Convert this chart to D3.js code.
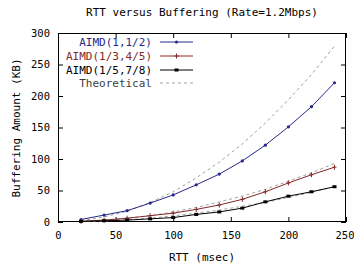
<!DOCTYPE html>
<html><head><meta charset="utf-8">
<script src="https://cdn.jsdelivr.net/npm/d3@7"></script>
<style>body{margin:0;background:#fff}svg{display:block}text{font-family:"DejaVu Sans Mono",monospace}</style>
</head><body><svg id="c" width="354" height="266"></svg>
<script>
const rtt = [20, 40, 60, 80, 100, 120, 140, 160, 180, 200, 220, 240];
const aimd1 = [4, 11, 18, 30, 43, 59, 76, 97, 122, 151, 183, 221];
const aimd2 = [1, 3, 6, 10, 14, 20, 27, 36, 48, 62, 75, 87];
const aimd3 = [1, 2, 3, 5, 7, 12, 16, 22, 32, 41, 48, 56];
const theo1 = [2, 8, 17, 31, 48, 70, 95, 124, 157, 194, 234, 279];
const theo2 = [1, 3, 6, 10, 16, 23, 32, 41, 52, 65, 78, 93];
const theo3 = [0.5, 1.6, 3.4, 6, 10, 14, 19, 25, 31, 39, 47, 56];
const xTicks = [0, 50, 100, 150, 200, 250];
const yTicks = [0, 50, 100, 150, 200, 250, 300];
const names = ["AIMD(1,1/2)", "AIMD(1/3,4/5)", "AIMD(1/5,7/8)", "Theoretical"];

const svg = d3.select("#c");
const L = 58, R = 346, T = 33, B = 222;
const x = d3.scaleLinear().domain([0, 250]).range([L, R]);
const y = d3.scaleLinear().domain([0, 300]).range([B, T]);

svg.append("text").attr("x", 202).attr("y", 16).attr("text-anchor", "middle")
  .attr("font-size", 11).attr("fill", "#000").text("RTT versus Buffering (Rate=1.2Mbps)");
svg.append("text").attr("x", 202).attr("y", 261).attr("text-anchor", "middle")
  .attr("font-size", 11).text("RTT (msec)");
svg.append("text").attr("transform", "translate(20,128) rotate(-90)").attr("text-anchor", "middle")
  .attr("font-size", 11).text("Buffering Amount (KB)");

const tk = 5;
const gx = svg.append("g").attr("transform", `translate(0,${B})`)
  .call(d3.axisBottom(x).tickValues(xTicks).tickSize(-tk).tickPadding(10));
const gxt = svg.append("g").attr("transform", `translate(0,${T})`)
  .call(d3.axisTop(x).tickValues(xTicks).tickSize(-tk).tickFormat(""));
const gy = svg.append("g").attr("transform", `translate(${L},0)`)
  .call(d3.axisLeft(y).tickValues(yTicks).tickSize(-tk).tickPadding(8));
const gyr = svg.append("g").attr("transform", `translate(${R},0)`)
  .call(d3.axisRight(y).tickValues(yTicks).tickSize(-tk).tickFormat(""));
[gx, gxt, gy, gyr].forEach(g => {
  g.select(".domain").remove();
  g.selectAll("text").attr("font-size", 10.5).attr("font-family", "DejaVu Sans Mono").attr("fill", "#000");
  g.selectAll("line").attr("stroke", "#000");
});
gx.selectAll("text").filter(d => d === 250).attr("text-anchor", "end").attr("dx", 8);
svg.append("rect").attr("x", L + 0.5).attr("y", T + 0.5).attr("width", R - L - 1).attr("height", B - T - 1)
  .attr("fill", "none").attr("stroke", "#000");

const line = d3.line().x((d, i) => x(rtt[i])).y(d => y(d));

[theo1, theo2, theo3].forEach(s => {
  svg.append("path").datum(s).attr("d", line).attr("fill", "none")
    .attr("stroke", "#a0a0a0").attr("stroke-width", 1).attr("stroke-dasharray", "3,3");
});

const series = [
  {v: aimd1, c: "#28288a", m: "dot"},
  {v: aimd2, c: "#842828", m: "plus"},
  {v: aimd3, c: "#000000", m: "sq"}
];
function marker(g, cx, cy, m, c) {
  if (m === "dot") g.append("circle").attr("cx", cx).attr("cy", cy).attr("r", 1.6).attr("fill", c);
  else if (m === "plus") {
    g.append("line").attr("x1", cx - 2).attr("x2", cx + 2).attr("y1", cy).attr("y2", cy).attr("stroke", c);
    g.append("line").attr("x1", cx).attr("x2", cx).attr("y1", cy - 2.5).attr("y2", cy + 2.5).attr("stroke", c);
  } else g.append("rect").attr("x", cx - 2).attr("y", cy - 1.5).attr("width", 4).attr("height", 3).attr("fill", c);
}
series.forEach(s => {
  svg.append("path").datum(s.v).attr("d", line).attr("fill", "none").attr("stroke", s.c).attr("stroke-width", 1);
  const g = svg.append("g");
  s.v.forEach((d, i) => marker(g, x(rtt[i]), y(d), s.m, s.c));
});

const legColors = ["#28288a", "#842828", "#000000", "#404040"];
const legY = [42, 56, 70, 83];
names.forEach((n, i) => {
  svg.append("text").attr("x", 152).attr("y", legY[i] + 4).attr("text-anchor", "end")
    .attr("font-size", 11).attr("fill", legColors[i]).text(n);
  if (i < 3) {
    svg.append("line").attr("x1", 160).attr("x2", 193).attr("y1", legY[i]).attr("y2", legY[i])
      .attr("stroke", series[i].c);
    marker(svg, 176.5, legY[i], series[i].m, series[i].c);
  } else {
    svg.append("line").attr("x1", 160).attr("x2", 193).attr("y1", legY[i]).attr("y2", legY[i])
      .attr("stroke", "#a0a0a0").attr("stroke-dasharray", "3,3");
  }
});
</script></body></html>
